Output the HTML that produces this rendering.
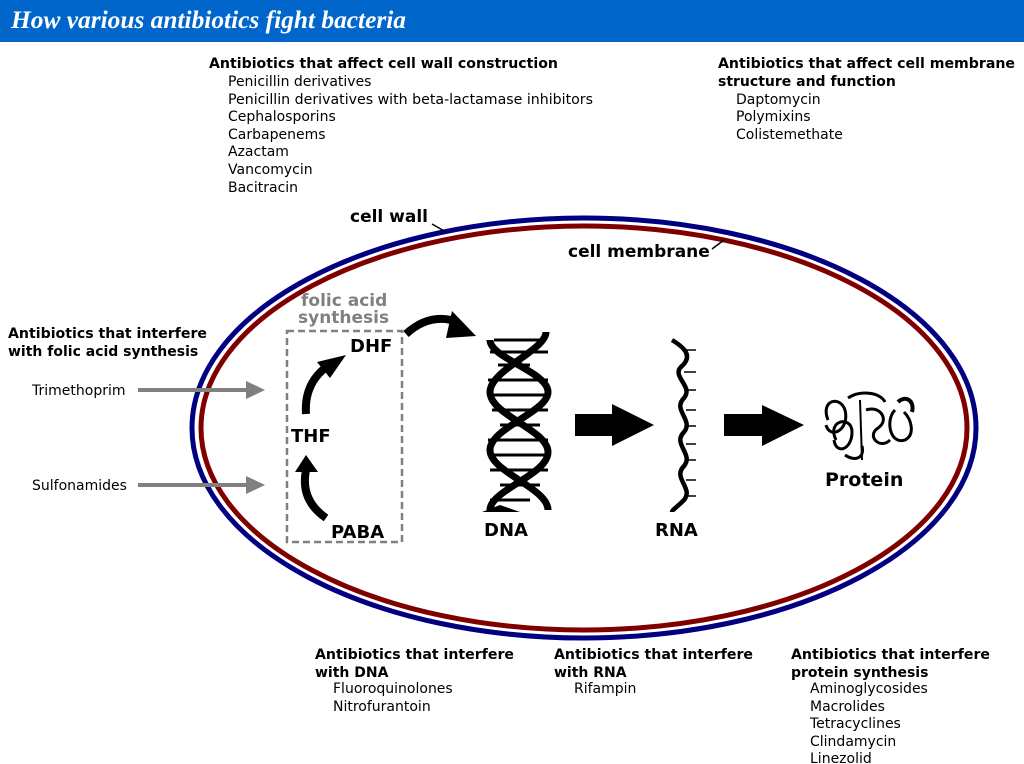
<!DOCTYPE html>
<html><head><meta charset="utf-8"><style>
html,body{margin:0;padding:0;background:#fff;}
svg{display:block;}
.h{font-family:"DejaVu Sans","Liberation Sans",sans-serif;font-weight:bold;font-size:14px;fill:#000;}
.t{font-family:"DejaVu Sans","Liberation Sans",sans-serif;font-size:14px;fill:#000;}
.b{font-family:"DejaVu Sans","Liberation Sans",sans-serif;font-weight:bold;font-size:18px;fill:#000;}
.l{font-family:"DejaVu Sans","Liberation Sans",sans-serif;font-weight:bold;font-size:17px;fill:#000;}
</style></head><body>
<svg width="1024" height="764" viewBox="0 0 1024 764" xmlns="http://www.w3.org/2000/svg">
<rect x="0" y="0" width="1024" height="42" fill="#0066cc"/>
<text x="11" y="28" font-family="Liberation Serif,serif" font-style="italic" font-weight="bold" font-size="25" fill="#fff" textLength="395" lengthAdjust="spacingAndGlyphs">How various antibiotics fight bacteria</text>

<!-- cell -->
<ellipse cx="584" cy="428" rx="392" ry="210" fill="none" stroke="#000080" stroke-width="5"/>
<ellipse cx="584" cy="428" rx="383" ry="202" fill="none" stroke="#800000" stroke-width="5"/>
<line x1="432" y1="224" x2="446" y2="232" stroke="#000" stroke-width="1.5"/>
<line x1="712" y1="249" x2="724" y2="240" stroke="#000" stroke-width="1.5"/>
<text class="l" x="350" y="222">cell wall</text>
<text class="l" x="568" y="257">cell membrane</text>

<!-- top text -->
<text class="h" x="209" y="68" textLength="349" lengthAdjust="spacingAndGlyphs">Antibiotics that affect cell wall construction</text>
<text class="t" x="228" y="86">Penicillin derivatives</text>
<text class="t" x="228" y="104" textLength="365" lengthAdjust="spacingAndGlyphs">Penicillin derivatives with beta-lactamase inhibitors</text>
<text class="t" x="228" y="121">Cephalosporins</text>
<text class="t" x="228" y="139">Carbapenems</text>
<text class="t" x="228" y="156">Azactam</text>
<text class="t" x="228" y="174">Vancomycin</text>
<text class="t" x="228" y="192">Bacitracin</text>

<text class="h" x="718" y="68" textLength="297" lengthAdjust="spacingAndGlyphs">Antibiotics that affect cell membrane</text>
<text class="h" x="718" y="86">structure and function</text>
<text class="t" x="736" y="104">Daptomycin</text>
<text class="t" x="736" y="121">Polymixins</text>
<text class="t" x="736" y="139">Colistemethate</text>

<text class="h" x="8" y="338" textLength="199" lengthAdjust="spacingAndGlyphs">Antibiotics that interfere</text>
<text class="h" x="8" y="356">with folic acid synthesis</text>
<text class="t" x="32" y="395">Trimethoprim</text>
<text class="t" x="32" y="490">Sulfonamides</text>
<line x1="138" y1="390" x2="248" y2="390" stroke="#808080" stroke-width="4"/>
<polygon points="246,381 265,390 246,399" fill="#808080"/>
<line x1="138" y1="485" x2="248" y2="485" stroke="#808080" stroke-width="4"/>
<polygon points="246,476 265,485 246,494" fill="#808080"/>

<!-- folic acid box -->
<text class="l" x="301" y="306" style="fill:#808080">folic acid</text>
<text class="l" x="298" y="323" style="fill:#808080">synthesis</text>
<rect x="287" y="331" width="115" height="211" fill="none" stroke="#808080" stroke-width="2.5" stroke-dasharray="7,4"/>
<text class="b" x="350" y="352">DHF</text>
<text class="b" x="291" y="442">THF</text>
<text class="b" x="331" y="538">PABA</text>
<path d="M326,518 Q300,500 306,470" fill="none" stroke="#000" stroke-width="8"/>
<polygon points="295,472 306,455 318,472" fill="#000"/>
<path d="M306,414 Q304,385 325,368" fill="none" stroke="#000" stroke-width="8"/>
<polygon points="317,362 346,355 330,378" fill="#000"/>
<path d="M406,334 Q430,312 458,322" fill="none" stroke="#000" stroke-width="8"/>
<polygon points="452,311 476,336 446,338" fill="#000"/>

<!-- DNA -->
<g stroke="#000" fill="none">
<g stroke-width="3">
<line x1="494" y1="340" x2="546" y2="340"/><line x1="490" y1="352" x2="548" y2="352"/>
<line x1="498" y1="365" x2="530" y2="365"/><line x1="488" y1="380" x2="548" y2="380"/>
<line x1="488" y1="395" x2="548" y2="395"/><line x1="492" y1="410" x2="548" y2="410"/>
<line x1="500" y1="425" x2="540" y2="425"/><line x1="488" y1="440" x2="548" y2="440"/>
<line x1="488" y1="455" x2="548" y2="455"/><line x1="490" y1="470" x2="548" y2="470"/>
<line x1="500" y1="485" x2="540" y2="485"/><line x1="490" y1="500" x2="530" y2="500"/>
</g>
<path d="M546,332 C546,350 490,370 490,392 C490,415 548,430 548,452 C548,475 490,490 490,510" stroke-width="7"/>
<path d="M490,340 C490,358 548,372 548,392 C548,412 490,428 490,450 C490,472 548,488 548,510" stroke-width="7"/>
</g>
<polygon points="482,512 500,505 520,512" fill="#000"/>
<text class="b" x="484" y="536">DNA</text>

<!-- arrow DNA->RNA -->
<polygon points="575,414 612,414 612,404 654,425 612,446 612,436 575,436" fill="#000"/>

<!-- RNA -->
<path d="M672,340 C682,346 694,355 682,366 C670,376 694,386 684,398 C672,410 694,420 684,432 C672,444 694,454 684,466 C672,478 694,488 684,500 C676,508 672,510 672,512" fill="none" stroke="#000" stroke-width="4.5"/>
<g stroke="#000" stroke-width="1.5">
<line x1="684" y1="350" x2="696" y2="350"/><line x1="684" y1="372" x2="696" y2="372"/>
<line x1="686" y1="390" x2="696" y2="390"/><line x1="686" y1="410" x2="696" y2="410"/>
<line x1="686" y1="426" x2="696" y2="426"/><line x1="686" y1="444" x2="696" y2="444"/>
<line x1="686" y1="460" x2="696" y2="460"/><line x1="686" y1="480" x2="696" y2="480"/>
<line x1="686" y1="496" x2="696" y2="496"/>
</g>
<text class="b" x="655" y="536">RNA</text>

<!-- arrow RNA->Protein -->
<polygon points="724,414 762,414 762,405 804,425 762,446 762,436 724,436" fill="#000"/>

<!-- Protein -->
<g fill="none" stroke="#000" stroke-width="3">
<path d="M828,420 C820,400 840,395 845,410 C850,430 830,440 826,425"/>
<path d="M836,440 C826,420 852,415 852,432 C852,450 836,455 834,440"/>
<path d="M848,398 C860,390 880,392 885,402"/>
<path d="M860,400 L862,460" stroke-width="2"/>
<path d="M866,410 C880,405 890,420 878,428 C866,436 880,450 890,440"/>
<path d="M895,410 C885,420 890,445 905,440 C915,435 912,420 904,412"/>
<path d="M898,402 C905,395 915,400 912,412" stroke-width="4"/>
<path d="M845,455 C855,462 865,458 862,446"/>
</g>
<text class="b" x="825" y="486" style="font-size:19px">Protein</text>

<!-- bottom text -->
<text class="h" x="315" y="659" textLength="199" lengthAdjust="spacingAndGlyphs">Antibiotics that interfere</text>
<text class="h" x="315" y="677">with DNA</text>
<text class="t" x="333" y="693">Fluoroquinolones</text>
<text class="t" x="333" y="711">Nitrofurantoin</text>

<text class="h" x="554" y="659" textLength="199" lengthAdjust="spacingAndGlyphs">Antibiotics that interfere</text>
<text class="h" x="554" y="677">with RNA</text>
<text class="t" x="574" y="693">Rifampin</text>

<text class="h" x="791" y="659" textLength="199" lengthAdjust="spacingAndGlyphs">Antibiotics that interfere</text>
<text class="h" x="791" y="677">protein synthesis</text>
<text class="t" x="810" y="693">Aminoglycosides</text>
<text class="t" x="810" y="711">Macrolides</text>
<text class="t" x="810" y="728">Tetracyclines</text>
<text class="t" x="810" y="746">Clindamycin</text>
<text class="t" x="810" y="763">Linezolid</text>
</svg>
</body></html>
